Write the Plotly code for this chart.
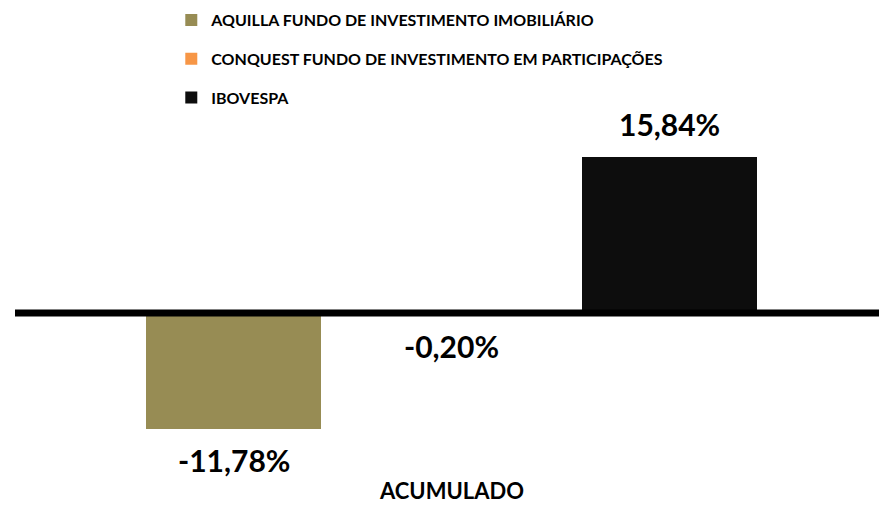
import plotly.graph_objects as go

categories = ["ACUMULADO"]
series_names = [
    "AQUILLA FUNDO DE INVESTIMENTO IMOBILIÁRIO",
    "CONQUEST FUNDO DE INVESTIMENTO EM PARTICIPAÇÕES",
    "IBOVESPA",
]
series_values = [-11.78, -0.20, 15.84]
value_labels = ["-11,78%", "-0,20%", "15,84%"]
colors = ["#978C54", "#F79646", "#0D0D0D"]

FONT = "Lato"
W, H = 879, 505
zero_px = 313.0
px_per_unit = 9.85
ymax = zero_px / px_per_unit
ymin = -(H - zero_px) / px_per_unit

fig = go.Figure()
for i, (name, val, col) in enumerate(zip(series_names, series_values, colors)):
    fig.add_trace(go.Bar(
        x=categories, y=[val], name=name, marker=dict(color=col, line=dict(width=0)),
        legendgroup=f"g{i}", hoverinfo="skip",
    ))

bar_step = 218
for i, (val, lab) in enumerate(zip(series_values, value_labels)):
    fig.add_annotation(
        x=categories[0], y=val, xref="x", yref="y", text=f"<b>{lab}</b>",
        showarrow=False, xshift=(i - 1) * bar_step, yshift=33 if val > 0 else -31,
        yanchor="middle", xanchor="center",
        font=dict(family=FONT, size=30, color="#000000"),
    )

fig.add_annotation(
    x=categories[0], y=0, xref="x", yref="paper", text=f"<b>{categories[0]}</b>",
    showarrow=False, yanchor="middle", yshift=15,
    font=dict(family=FONT, size=22, color="#000000"),
)

# horizontal baseline at value 0, drawn above the bars
fig.add_shape(type="line", xref="paper", yref="y", x0=0, x1=1, y0=0, y1=0,
              line=dict(color="#000000", width=7), layer="above")

plot_w = W - 15
cat_px = 873.0
r0 = -0.5
r1 = r0 + plot_w / cat_px

fig.update_layout(
    width=W, height=H,
    margin=dict(l=15, r=0, t=0, b=0),
    paper_bgcolor="white", plot_bgcolor="white",
    barmode="group", bargap=1 - 654 / cat_px, bargroupgap=43 / 218,
    font=dict(family=FONT, color="#000000"),
    showlegend=True,
    legend=dict(
        x=159 / W, y=1 - 3 / H, xanchor="left", yanchor="top",
        font=dict(family=FONT, size=16, color="#000000", weight="bold"),
        tracegroupgap=15, bgcolor="rgba(0,0,0,0)", itemclick=False, itemdoubleclick=False,
    ),
    xaxis=dict(range=[r0, r1], showticklabels=False, showgrid=False, zeroline=False,
               showline=False, ticks=""),
    yaxis=dict(range=[ymin, ymax], showticklabels=False, showgrid=False,
               zeroline=False, showline=False, ticks=""),
)

fig.write_html("out.html", config={"displayModeBar": False},
               post_script="document.body.style.margin='0px';")
